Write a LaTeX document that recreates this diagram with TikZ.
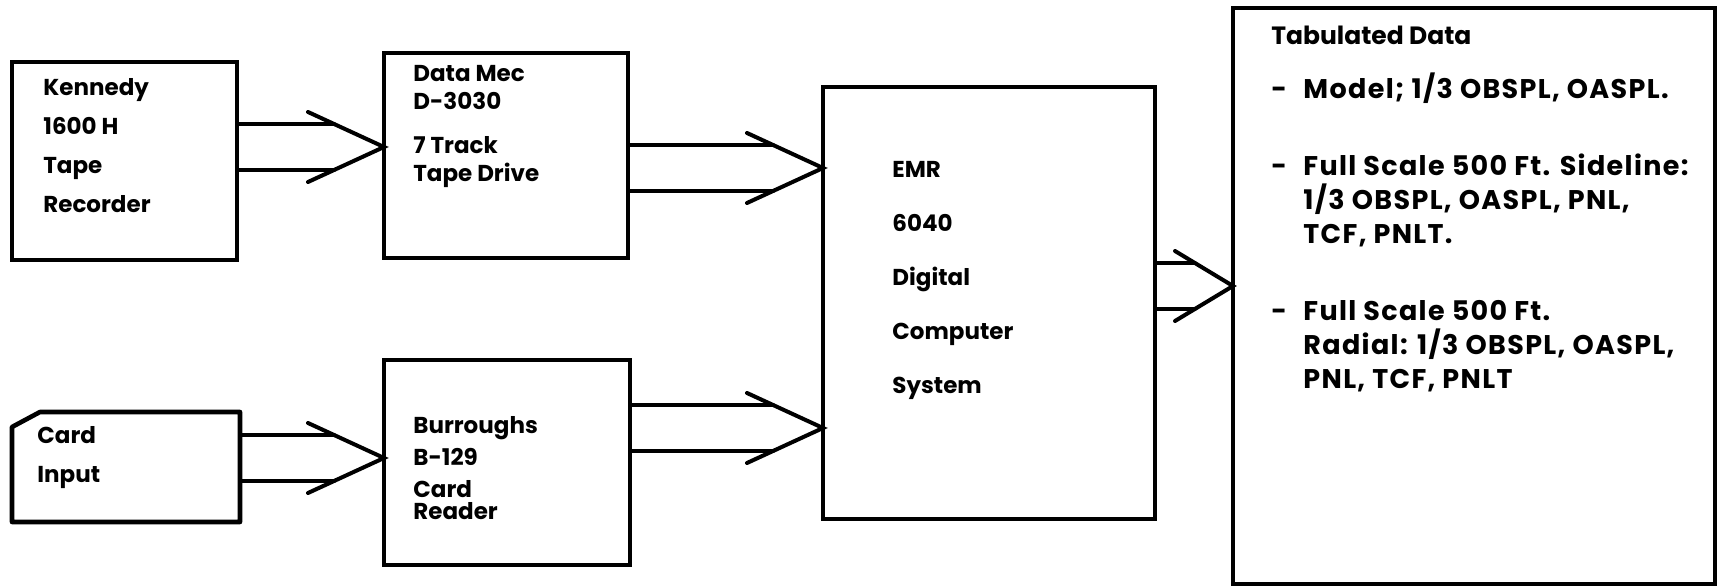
\documentclass[tikz,border=0pt]{standalone}
\usepackage{fontspec}
\setmainfont{Poppins}
\usetikzlibrary{calc}

% two parallel lines closed by one open chevron
\newcommand{\twinarrow}[4][76]{%
  \coordinate (tip) at ($(#3.west)+(0,#4)$);
  \coordinate (up) at ($(tip)+(0,-23)$);
  \coordinate (dn) at ($(tip)+(0,23)$);
  \draw[flow] (#2.east |- up) -- ($(up)+(-0.657*#1,0)$);
  \draw[flow] (#2.east |- dn) -- ($(dn)+(-0.657*#1,0)$);
  \draw[flow] ($(tip)+(-#1,-35)$) -- (tip) -- ($(tip)+(-#1,35)$);
}
\newcommand{\itemfont}{\bfseries\fontsize{13.5}{16}\selectfont\addfontfeature{LetterSpace=5}}

\begin{document}
\begin{tikzpicture}[
  x=0.5pt, y=-0.5pt,
  box/.style={draw, line width=2.3pt, inner sep=0pt, outer sep=0pt},
  lbl/.style={anchor=north west, align=left, inner sep=0pt, font=\bfseries\fontsize{11.5}{19.5}\selectfont},
  flow/.style={line width=2pt, line cap=round, line join=miter}
]
\useasboundingbox (0,0) rectangle (1721,587);

% --- boxes ---
\node[box, minimum width=112.5pt, minimum height=99pt] (rec) at (124.5,161) {};
\node[box, minimum width=122pt, minimum height=102.5pt] (drive) at (506,155.5) {};
\node[inner sep=0pt, outer sep=0pt, minimum width=114pt, minimum height=55pt] (card) at (126,467) {};
\draw[line width=2.3pt, line join=round] ([yshift=-7.5pt]card.north west) -- ([xshift=14pt]card.north west)
  -- (card.north east) -- (card.south east) -- (card.south west) -- cycle;
\node[box, minimum width=123pt, minimum height=102.5pt] (reader) at (507,462.5) {};
\node[box, minimum width=166pt, minimum height=216pt] (emr) at (989,303) {};
\node[box, minimum width=241pt, minimum height=288pt] (tab) at (1474,296) {};

% --- texts ---
\node[lbl] (rec-t) at ([shift={(15.5pt,-8pt)}]rec.north west) {Kennedy\\1600 H\\Tape\\Recorder};
\node[lbl, font=\bfseries\fontsize{11.5}{14}\selectfont] (drive-t) at ([shift={(14.5pt,-6pt)}]drive.north west)
  {Data Mec\\D-3030\\[8pt]7 Track\\Tape Drive};
\node[lbl] (card-t) at ([shift={(12.5pt,-7pt)}]card.north west) {Card\\Input};
\node[lbl, font=\bfseries\fontsize{11.5}{16}\selectfont] (reader-t) at ([shift={(14.5pt,-28pt)}]reader.north west)
  {Burroughs\\B-129\\Card\\[-5pt]Reader};
\node[lbl, font=\bfseries\fontsize{11.5}{27}\selectfont] (emr-t) at ([shift={(34.5pt,-37pt)}]emr.north west)
  {EMR\\6040\\Digital\\Computer\\System};
\node[lbl, font=\bfseries\fontsize{12.5}{17}\selectfont] (tab-t) at ([shift={(19pt,-9pt)}]tab.north west)
  {Tabulated Data\\[10pt]
   \itemfont\makebox[16pt][l]{-}Model; 1/3 OBSPL, OASPL.\\[21.5pt]
   \itemfont\makebox[16pt][l]{-}Full Scale 500 Ft. Sideline:\\
   \itemfont\hspace*{16pt}1/3 OBSPL, OASPL, PNL,\\
   \itemfont\hspace*{16pt}TCF, PNLT.\\[21.5pt]
   \itemfont\makebox[16pt][l]{-}Full Scale 500 Ft.\\
   \itemfont\hspace*{16pt}Radial: 1/3 OBSPL, OASPL,\\
   \itemfont\hspace*{16pt}PNL, TCF, PNLT};

% --- connectors ---
\twinarrow{rec}{drive}{-8.5}
\twinarrow{card}{reader}{-4.5}
\twinarrow{drive}{emr}{-135}
\twinarrow{reader}{emr}{125}
\twinarrow[58]{emr}{tab}{-10}

\end{tikzpicture}
\end{document}
